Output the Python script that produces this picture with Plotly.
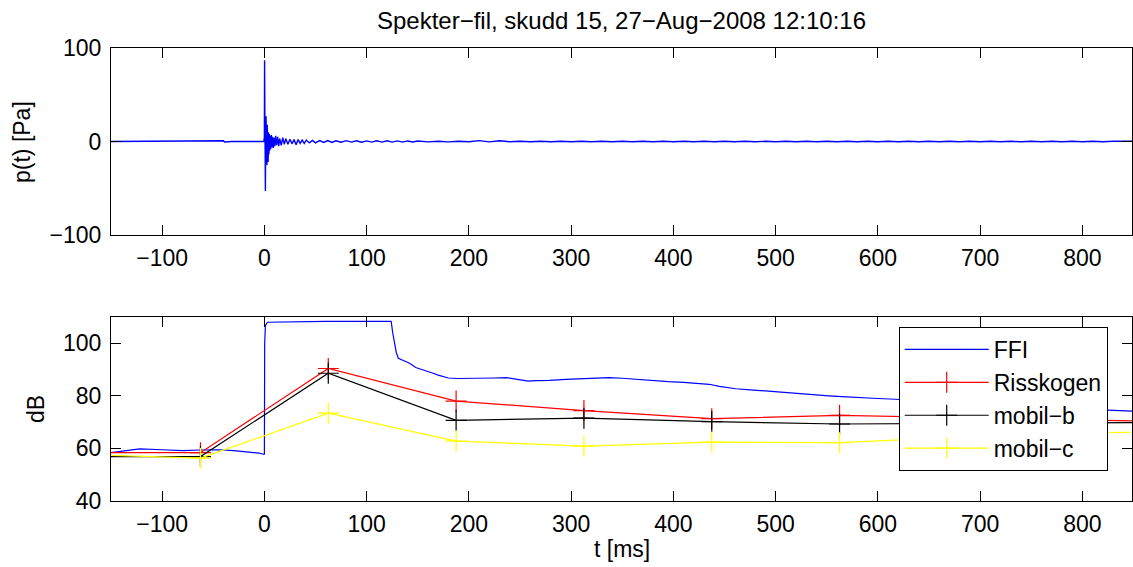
import plotly.graph_objects as go

# ---------------- data ----------------
title_text = "Spekter\u2212fil, skudd 15, 27\u2212Aug\u22122008 12:10:16"

# top panel: pressure trace p(t) [Pa] vs t [ms]
t_pre = [-150, -120, -90, -80, -79, -60, -45, -40, -39, -33, -32, -20, -10, -2, -0.5]
p_pre = [0, 0, 0, 0.3, 0, 0, 0, 0.8, -0.5, 0.6, 0, 0, 0, 0, 0]

t_spike = [0.0, 0.2, 0.5, 0.8, 1.0, 1.3, 1.6, 1.9, 2.2, 2.5, 2.8, 3.1, 3.4, 3.7, 4.0,
           4.4, 4.8, 5.2, 5.7, 6.2, 6.8, 7.4, 8.0, 8.7, 9.4, 10.2, 11, 12, 13, 14, 15,
           16.5, 18, 19.5, 21, 23, 25, 27, 29, 31, 33, 35, 37, 39, 41, 44, 47, 50, 54,
           58, 62, 66]
p_spike = [5, 87, 20, -20, -53, 10, 27, -15, 22, -25, 18, -20, 14, -22, 10,
           -14, 8, -10, 6, -8, 7, -6, 5, -7, 4, -5, 6, -4, 5, -5, 3,
           -4, 4, -3, 3, -3, 2.5, -2.5, 2, -3.5, 2, -2, 1.5, -2, 1.5, -1.5, 1.2, -1.5, 1,
           -1, 1, -1]

t_tail = [70, 75, 80, 85, 90, 95, 100, 105, 110, 115, 120, 125, 130, 135, 140, 145, 150,
          160, 170, 180, 190, 200, 210, 220, 230, 240, 250, 260,
          270, 280, 290, 300, 310, 320, 330, 340, 350, 360,
          370, 380, 390, 400, 410, 420, 430, 440, 450, 460,
          470, 480, 490, 500, 510, 520, 530, 540, 550, 560,
          570, 580, 590, 600, 610, 620, 630, 640, 650, 660,
          670, 680, 690, 700, 710, 720, 730, 740, 750, 760,
          770, 780, 790, 800, 810, 820, 830, 840, 850]
p_tail = [0.8, -0.7, 0.9, -0.6, 0.7, -0.8, 0.6, -0.7, 0.8, -0.6, 0.7, -0.6, 0.6, -0.7, 0.6, -0.5, 0.6,
          -0.4, 0.3, -0.4, 0.3, -0.3, 0.9, -0.4, 0.8, -0.3, 0.3, -0.3,
          0.3, -0.3, 0.2, -0.3, 0.3, -0.2, 0.3, -0.3, 0.2, -0.2,
          0.3, -0.2, 0.2, -0.3, 0.2, -0.2, 0.3, -0.2, 0.2, -0.2,
          0.3, -0.2, 0.2, -0.2, 0.3, -0.2, 0.2, -0.3, 0.2, -0.2,
          0.2, -0.2, 0.3, -0.2, 0.2, -0.2, 0.2, -0.2, 0.3, -0.2,
          0.2, -0.2, 0.2, -0.2, 0.2, -0.2, 0.2, -0.2, 0.2, -0.2,
          0.2, -0.2, 0.2, -0.2, 0.2, -0.2, 0.2, -0.2, 0.2]

# bottom panel: FFI level [dB]
t_ffi = [-150, -135, -122, -100, -80, -62, -45, -30, -15, -5, -1, 0.0, 0.3, 1.0, 3,
         30, 60, 90, 124, 125.5, 127, 129, 131, 135, 142, 148, 155, 160, 165, 170,
         175, 180, 188, 197, 210, 225, 237, 245, 252, 258, 265, 279, 295, 310, 325,
         337, 350, 365, 380, 395, 410, 425, 435, 445, 452, 461, 475, 490, 505, 520,
         535, 552, 565, 580, 600, 617, 640, 680, 720, 760, 800, 839, 850]
db_ffi = [58.4, 59.2, 59.8, 59.5, 59.2, 59.4, 59.5, 59.2, 58.7, 58.2, 57.8, 57.8, 100, 106.8, 108.0,
          108.2, 108.3, 108.3, 108.3, 104, 100, 96.5, 94.3, 93.7, 92.4, 90.8, 90.0, 89.2, 88.6, 87.9,
          87.3, 86.8, 86.6, 86.6, 86.7, 86.8, 86.9, 86.4, 85.7, 85.6, 85.8, 85.9, 86.3, 86.6, 86.8,
          86.9, 86.7, 86.2, 85.8, 85.4, 85.1, 84.8, 84.4, 83.6, 83.1, 82.7, 82.3, 81.8, 81.3, 80.9,
          80.5, 80.0, 79.7, 79.3, 79.0, 78.7, 78.0, 77.0, 76.2, 75.5, 75.0, 74.4, 74.2]

# measurement stations (every 125 ms)
t_meas = [-187.5, -62.5, 62.5, 187.5, 312.5, 437.5, 562.5, 687.5, 812.5, 937.5]
db_risskogen = [58.4, 58.4, 90.4, 78.0, 74.4, 71.3, 72.6, 71.8, 71.0, 69.8]
db_mobil_b = [56.9, 56.9, 88.6, 70.7, 71.5, 70.2, 69.3, 69.5, 69.7, 70.0]
db_mobil_c = [57.8, 56.3, 73.4, 62.8, 60.9, 62.4, 62.2, 64.4, 66.0, 66.5]

x_ticks = [-100, 0, 100, 200, 300, 400, 500, 600, 700, 800]
y1_ticks = [-100, 0, 100]
y2_ticks = [40, 60, 80, 100]

# ---------------- figure ----------------
FONT = "Liberation Sans, Arial, Helvetica, sans-serif"
fs = 23

fig = go.Figure()

fig.add_trace(go.Scatter(
    x=t_pre + t_spike + t_tail, y=p_pre + p_spike + p_tail,
    mode="lines", line=dict(color="#0000ff", width=1.4),
    showlegend=False, xaxis="x", yaxis="y"))

fig.add_trace(go.Scatter(
    x=t_ffi, y=db_ffi, mode="lines", name="FFI",
    line=dict(color="#0000ff", width=1.2),
    xaxis="x2", yaxis="y2"))

for name, vals, col in [("Risskogen", db_risskogen, "#ff0000"),
                        ("mobil\u2212b", db_mobil_b, "#000000"),
                        ("mobil\u2212c", db_mobil_c, "#ffff00")]:
    fig.add_trace(go.Scatter(
        x=t_meas, y=vals, mode="lines+markers", name=name,
        line=dict(color=col, width=1.2),
        marker=dict(symbol="cross-thin", size=15, color=col,
                    line=dict(color=col, width=1.2)),
        xaxis="x2", yaxis="y2"))

axis_common = dict(
    showline=True, linecolor="black", linewidth=1, mirror="ticks",
    ticks="inside", ticklen=10, tickcolor="black", tickwidth=1,
    showgrid=False, zeroline=False,
    tickfont=dict(family=FONT, size=fs, color="black"),
)

fig.update_layout(
    width=1133, height=567,
    margin=dict(l=111, r=1, t=48, b=66),
    paper_bgcolor="white", plot_bgcolor="white",
    font=dict(family=FONT, size=fs, color="black"),
    title=dict(text=title_text, x=0.5, xref="paper", y=1 - 21 / 567,
               yref="container", yanchor="middle", xanchor="center",
               font=dict(family=FONT, size=24, color="black")),
    xaxis=dict(domain=[0, 1], range=[-150, 848.5], anchor="y",
               tickvals=x_ticks, ticklabelstandoff=2, **axis_common),
    yaxis=dict(domain=[0.5872, 1], range=[-100, 100], anchor="x",
               tickvals=y1_ticks, ticklabelstandoff=4, **axis_common),
    xaxis2=dict(domain=[0, 1], range=[-150, 848.5], anchor="y2",
                tickvals=x_ticks, ticklabelstandoff=2, **axis_common),
    yaxis2=dict(domain=[0, 0.4062], range=[40, 110], anchor="x2",
                tickvals=y2_ticks, ticklabelstandoff=4, **axis_common),
    legend=dict(x=0.7715, y=0.3841, xanchor="left", yanchor="top",
                bgcolor="white", bordercolor="black", borderwidth=1,
                font=dict(family=FONT, size=23, color="black"),
                itemwidth=84, traceorder="normal"),
    showlegend=True,
)

fig.add_annotation(text="p(t) [Pa]", xref="paper", yref="paper",
                   x=(22 - 111) / 1021, y=1 - (142 - 48) / 453, textangle=-90,
                   showarrow=False, xanchor="center", yanchor="middle",
                   font=dict(family=FONT, size=fs, color="black"))
fig.add_annotation(text="dB", xref="paper", yref="paper",
                   x=(36 - 111) / 1021, y=1 - (409 - 48) / 453, textangle=-90,
                   showarrow=False, xanchor="center", yanchor="middle",
                   font=dict(family=FONT, size=fs, color="black"))
fig.add_annotation(text="t [ms]", xref="paper", yref="paper",
                   x=(622 - 111) / 1021, y=1 - (549 - 48) / 453,
                   showarrow=False, xanchor="center", yanchor="middle",
                   font=dict(family=FONT, size=fs, color="black"))

fig.write_html("out.html")
